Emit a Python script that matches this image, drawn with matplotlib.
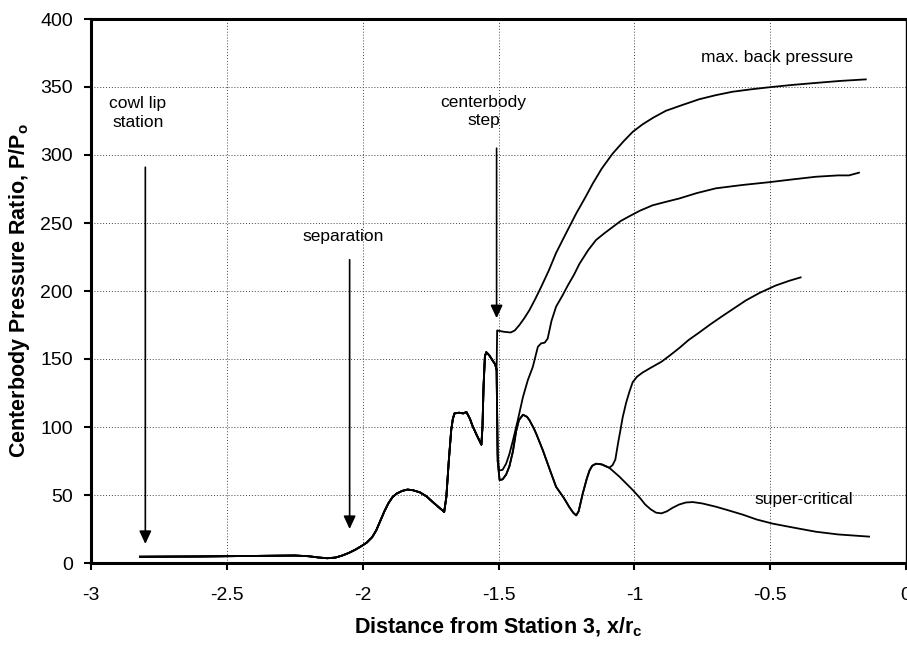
import matplotlib
matplotlib.use("Agg")
import matplotlib.pyplot as plt
import numpy as np

plt.rcParams['font.family'] = ['Liberation Sans', 'DejaVu Sans']
plt.rcParams['axes.unicode_minus'] = False

# ---- data ----
# shared part of all four pressure distributions
common_x = [-2.82, -2.6, -2.4, -2.25, -2.2, -2.16, -2.13, -2.1, -2.075, -2.05, -2.025, -2.0,
            -1.985, -1.965, -1.95, -1.935, -1.92, -1.905, -1.89, -1.875, -1.855, -1.835,
            -1.815, -1.79, -1.765, -1.743, -1.72, -1.705, -1.70, -1.692, -1.683, -1.674,
            -1.668, -1.662, -1.645, -1.63, -1.618, -1.605, -1.596, -1.58, -1.563, -1.559,
            -1.555, -1.55, -1.545, -1.535, -1.522, -1.512, -1.507]
common_y = [4.6, 4.8, 5.2, 5.5, 5.0, 4.0, 3.5, 4.0, 5.5, 7.5, 10, 13,
            15, 19, 24, 31, 38, 44, 48.5, 51, 53, 54,
            53.5, 52, 49, 45, 41, 38.5, 37.5, 48.5, 75, 98,
            106, 110, 110.5, 110, 111, 106, 101, 94, 87, 100,
            130, 152, 155, 153, 149, 146, 142]

# max. back pressure branch
maxbp_x = [-1.505, -1.48, -1.455, -1.44, -1.423, -1.405, -1.386, -1.365, -1.343, -1.315,
           -1.288, -1.25, -1.214, -1.18, -1.153, -1.12, -1.08, -1.04, -1.006, -0.97,
           -0.93, -0.884, -0.82, -0.761, -0.7, -0.639, -0.57, -0.504, -0.42, -0.332,
           -0.24, -0.148]
maxbp_y = [171, 170, 169.5, 171, 175, 180, 186, 194, 203, 215,
           228, 243, 257, 269, 279, 290, 301, 310, 317, 322.5,
           327.5, 332.5, 337, 341, 344, 346.5, 348.3, 349.8, 351.5, 353,
           354.5, 355.6]

# intermediate back pressure branch (ends near 287)
mid_x = [-1.503, -1.498, -1.485, -1.472, -1.46, -1.447, -1.429, -1.41, -1.392, -1.374,
         -1.355, -1.343, -1.33, -1.319, -1.305, -1.288, -1.265, -1.245, -1.222, -1.202,
         -1.17, -1.141, -1.11, -1.08, -1.05, -1.018, -0.98, -0.933, -0.885, -0.835,
         -0.77, -0.7, -0.6, -0.504, -0.42, -0.332, -0.25, -0.21, -0.173]
mid_y = [80, 68, 68.5, 73, 80, 90, 105, 122, 134.5, 144,
         159, 161.5, 162, 165, 178, 188.5, 196.5, 204, 212, 220,
         230, 237.5, 242.5, 247, 251.5, 255, 259, 263, 265.5, 268,
         272, 275.5, 278, 280, 282, 284, 285, 285, 287]

# part shared by the two lower distributions after the step
low_x = [-1.503, -1.496, -1.485, -1.472, -1.46, -1.447, -1.435, -1.425, -1.41, -1.395,
         -1.386, -1.37, -1.36, -1.337, -1.31, -1.288, -1.26, -1.239, -1.225, -1.214,
         -1.205, -1.19, -1.175, -1.165, -1.155, -1.141, -1.12, -1.092]
low_y = [75, 61, 61.5, 65, 71, 82, 97, 105, 109, 107.5,
         105, 99, 94.5, 83, 68, 56, 48, 41, 37, 35,
         38, 51, 62, 68, 71.5, 73, 72.5, 70]

# branch ending near 210
branch_x = [-1.08, -1.07, -1.06, -1.05, -1.043, -1.03, -1.018, -1.006, -0.99, -0.97,
            -0.94, -0.9, -0.87, -0.835, -0.8, -0.761, -0.72, -0.68, -0.635, -0.59,
            -0.54, -0.48, -0.43, -0.388]
branch_y = [72, 76, 88, 99, 107, 118, 126, 133, 137, 140,
            143.5, 148, 152.5, 158, 164, 169.5, 175.5, 181, 187, 193,
            198.5, 204, 207.5, 210]

# super-critical branch
super_x = [-1.075, -1.055, -1.03, -1.006, -0.98, -0.96, -0.94, -0.92, -0.9, -0.88,
           -0.86, -0.835, -0.81, -0.785, -0.75, -0.7, -0.65, -0.6, -0.55, -0.492,
           -0.44, -0.4, -0.332, -0.25, -0.136]
super_y = [67, 63.5, 58.5, 53.7, 48, 43, 39.5, 37, 36.5, 38,
           40.5, 43, 44.5, 44.8, 43.8, 41.4, 38.5, 35.5, 32, 29,
           27, 25.5, 23, 21, 19.4]

x_ticks = [-3, -2.5, -2, -1.5, -1, -0.5, 0]
x_tick_labels = ["-3", "-2.5", "-2", "-1.5", "-1", "-0.5", "0"]
y_ticks = [0, 50, 100, 150, 200, 250, 300, 350, 400]

# arrows: (x, y_start, y_tip)
arrow_x = [-2.8, -2.048, -1.507]
arrow_y0 = [291, 223, 305]
arrow_y1 = [14, 25, 180]

# ---- figure ----
fig = plt.figure(figsize=(9.07, 6.45), dpi=100)
ax = fig.add_axes([91/907, 1 - 563/645, 815/907, (563 - 19)/645])

lw = 1.3
curves = [
    (common_x + maxbp_x, common_y + maxbp_y),
    (common_x + mid_x, common_y + mid_y),
    (common_x + low_x + branch_x, common_y + low_y + branch_y),
    (common_x + low_x + super_x, common_y + low_y + super_y),
]
for cx, cy in curves:
    ax.plot(cx, cy, color='black', lw=lw, solid_joinstyle='round')

ax.set_xlim(-3, 0)
ax.set_ylim(0, 400)
ax.set_xticks(x_ticks)
ax.set_xticklabels(x_tick_labels)
ax.set_yticks(y_ticks)
ax.grid(True, color='#444444', linestyle=(0, (1, 2)), lw=0.7)
ax.set_axisbelow(True)

for s in ['left', 'bottom', 'top']:
    ax.spines[s].set_linewidth(2.2)
ax.spines['right'].set_linewidth(1.0)
ax.tick_params(axis='both', direction='out', length=5, width=1.5, labelsize=14)
ax.tick_params(axis='x', pad=12)
ax.tick_params(axis='y', pad=8)

ax.set_xlabel("Distance from Station 3, x/r$_\\mathregular{c}$", fontsize=15.5,
              fontweight='bold', labelpad=9)
ax.set_ylabel("Centerbody Pressure Ratio, P/P$_\\mathregular{o}$", fontsize=15.5,
              fontweight='bold', labelpad=6)

for xa, y0, y1 in zip(arrow_x, arrow_y0, arrow_y1):
    ax.annotate('', xy=(xa, y1), xytext=(xa, y0),
                arrowprops=dict(arrowstyle='-|>,head_width=0.28,head_length=0.6',
                                color='black', lw=1.2, mutation_scale=13,
                                shrinkA=0, shrinkB=0))

tkw = dict(fontsize=12.5, ha='center', va='center', linespacing=1.3)
ax.text(-2.827, 331, "cowl lip\nstation", **tkw)
ax.text(-2.07, 240, "separation", **tkw)
ax.text(-1.555, 332, "centerbody\nstep", **tkw)
ax.text(-0.475, 372, "max. back pressure", **tkw)
ax.text(-0.375, 47, "super-critical", **tkw)

fig.savefig("out.png", dpi=100)
